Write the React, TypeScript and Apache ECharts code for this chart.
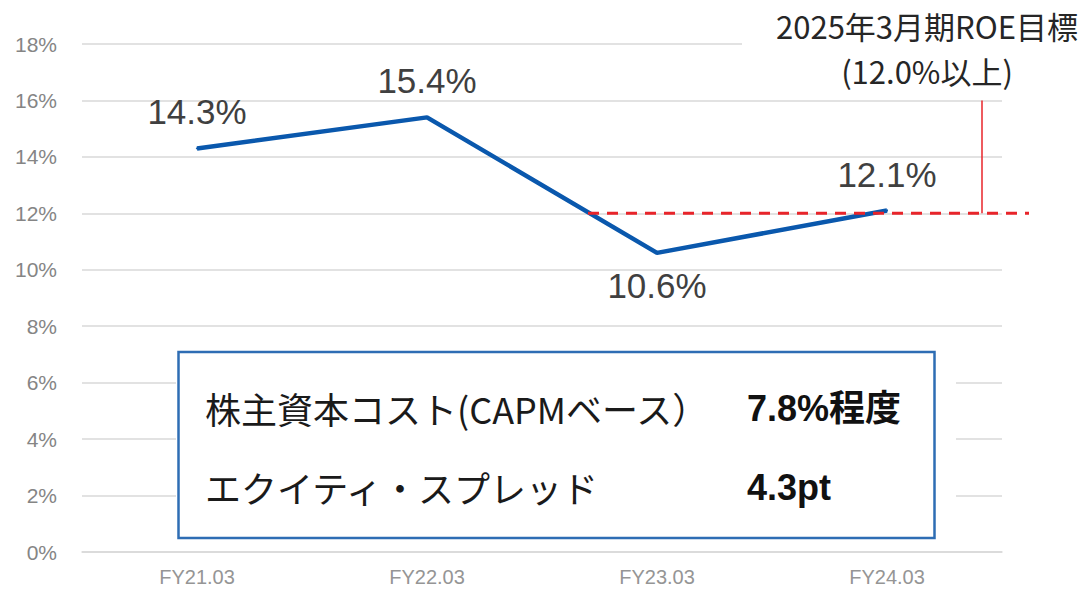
import React, { useEffect, useRef } from "react";
import * as echarts from "echarts";

const categories = ["FY21.03", "FY22.03", "FY23.03", "FY24.03"];
const roeValues = [14.3, 15.4, 10.6, 12.1];
const labelBelow = [false, false, true, false];
const yMin = 0;
const yMax = 18;
const yInterval = 2;
const targetROE = 12;
const targetBracketTop = 16;
const annotationLines = ["2025年3月期ROE目標", "(12.0%以上)"];
const boxLabels = ["株主資本コスト(CAPMベース）", "エクイティ・スプレッド"];
const boxValues = ["7.8%程度", "4.3pt"];

const LATIN = "'Liberation Sans', Arial, 'Noto Sans CJK JP', sans-serif";
const CJK = "'Noto Sans CJK JP', 'Liberation Sans', sans-serif";

export default function App() {
  const ref = useRef<HTMLDivElement>(null);
  useEffect(() => {
    document.body.style.margin = "0";
    if (!ref.current) return;
    const chart = echarts.init(ref.current, undefined, { renderer: "svg" });
    chart.setOption({
      animation: false,
      backgroundColor: "#ffffff",
      grid: { left: 82, right: 89, top: 44, bottom: 37 },
      xAxis: {
        type: "category",
        data: categories,
        boundaryGap: true,
        axisLine: { show: true, lineStyle: { color: "#d9d9d9", width: 1.5 } },
        axisTick: { show: false },
        axisLabel: { color: "#959595", fontSize: 20, fontFamily: LATIN, margin: 15 },
      },
      yAxis: {
        type: "value",
        min: yMin,
        max: yMax,
        interval: yInterval,
        axisLine: { show: false },
        axisTick: { show: false },
        splitLine: { lineStyle: { color: "#d9d9d9", width: 1.5 } },
        axisLabel: {
          color: "#858585",
          fontSize: 21,
          fontFamily: LATIN,
          margin: 25,
          formatter: (v: number) => `${v}%`,
        },
      },
      series: [
        {
          type: "line",
          data: roeValues.map((v, i) => ({
            value: v,
            label: labelBelow[i]
              ? { position: "bottom", distance: 14 }
              : { position: "top", distance: 18 },
          })),
          showSymbol: true,
          symbol: "circle",
          symbolSize: 2,
          itemStyle: { color: "#0a58ad" },
          lineStyle: { color: "#0a58ad", width: 4.5 },
          label: {
            show: true,
            color: "#404040",
            fontSize: 35,
            fontFamily: LATIN,
            formatter: (p: any) => `${Number(p.value).toFixed(1)}%`,
          },
          z: 3,
        },
      ],
    });

    const xa = (i: number) => chart.convertToPixel({ xAxisIndex: 0 }, i) as number;
    const ya = (v: number) => chart.convertToPixel({ yAxisIndex: 0 }, v) as number;
    const yT = ya(targetROE);
    const yTop = ya(targetBracketTop);
    const dashStart = xa(1) + 0.7 * (xa(2) - xa(1));
    const lastX = xa(3);
    const dashEnd = lastX + 142;
    const vx = lastX + 95;
    const annX = lastX + 40;

    chart.setOption({
      graphic: [
        {
          type: "rect",
          shape: { x: 742, y: 0, width: 349, height: 86 },
          style: { fill: "#ffffff" },
          z: 10,
        },
        {
          type: "text",
          x: annX,
          y: 25,
          style: {
            text: annotationLines[0],
            fill: "#262626",
            font: `31px ${CJK}`,
            lineHeight: 32,
            align: "center",
            verticalAlign: "middle",
          },
          z: 11,
        },
        {
          type: "text",
          x: annX,
          y: 70,
          style: {
            text: annotationLines[1],
            fill: "#262626",
            font: `31px ${CJK}`,
            lineHeight: 32,
            align: "center",
            verticalAlign: "middle",
          },
          z: 11,
        },
        {
          type: "line",
          shape: { x1: dashStart, y1: yT, x2: dashEnd, y2: yT },
          style: { stroke: "#e8242a", lineWidth: 3, lineDash: [11, 8] },
          z: 5,
        },
        {
          type: "line",
          shape: { x1: vx, y1: yTop, x2: vx, y2: yT },
          style: { stroke: "#e8242a", lineWidth: 1.5 },
          z: 5,
        },
        {
          type: "rect",
          shape: { x: 176, y: 350, width: 780, height: 190 },
          style: { fill: "#ffffff" },
          z: 10,
        },
        {
          type: "rect",
          shape: { x: 178.5, y: 352, width: 756, height: 186 },
          style: { fill: "#ffffff", stroke: "#2e6db4", lineWidth: 2.5 },
          z: 11,
        },
        {
          type: "text",
          x: 205,
          y: 408,
          style: {
            text: boxLabels[0],
            fill: "#1a1a1a",
            font: `36px ${CJK}`,
            verticalAlign: "middle",
          },
          z: 12,
        },
        {
          type: "text",
          x: 205,
          y: 487,
          style: {
            text: boxLabels[1],
            fill: "#1a1a1a",
            font: `36px ${CJK}`,
            verticalAlign: "middle",
          },
          z: 12,
        },
        {
          type: "text",
          x: 747,
          y: 408,
          style: {
            text: boxValues[0],
            fill: "#111111",
            font: `bold 36px ${LATIN}`,
            verticalAlign: "middle",
          },
          z: 12,
        },
        {
          type: "text",
          x: 747,
          y: 487,
          style: {
            text: boxValues[1],
            fill: "#111111",
            font: `bold 36px ${LATIN}`,
            verticalAlign: "middle",
          },
          z: 12,
        },
      ],
    });

    return () => chart.dispose();
  }, []);
  return <div ref={ref} style={{ width: 1091, height: 589 }} />;
}
